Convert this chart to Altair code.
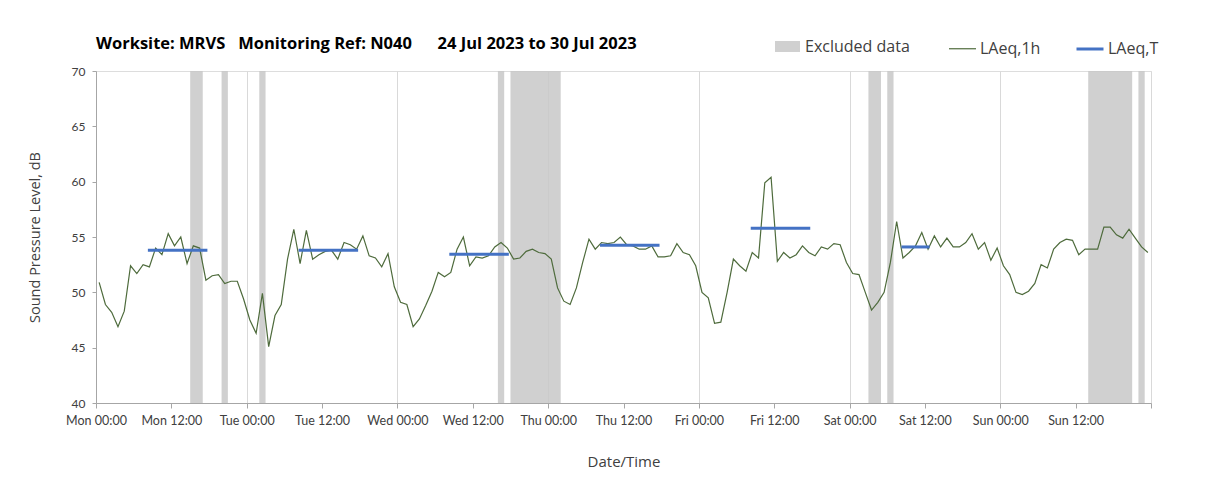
import altair as alt
import pandas as pd
import json

# Hourly LAeq,1h values (dB), one per hour starting Mon 24 Jul 2023 00:00 (plotted at mid-hour)
laeq_1h = [
    50.9, 48.9, 48.2, 46.9, 48.3, 52.4, 51.7, 52.5, 52.3, 54.0, 53.4, 55.3,
    54.2, 55.0, 52.6, 54.2, 54.0, 51.1, 51.5, 51.6, 50.8, 51.0, 51.0, 49.4,
    47.5, 46.3, 49.9, 45.1, 47.9, 48.9, 53.0, 55.7, 52.6, 55.6, 53.0, 53.4,
    53.7, 53.8, 53.0, 54.5, 54.3, 53.9, 55.1, 53.3, 53.1, 52.3, 53.5, 50.5,
    49.1, 48.9, 46.9, 47.6, 48.8, 50.1, 51.8, 51.4, 51.8, 53.9, 55.0, 52.4,
    53.2, 53.1, 53.3, 54.1, 54.5, 54.0, 53.0, 53.1, 53.7, 53.9, 53.6, 53.5,
    53.0, 50.4, 49.2, 48.9, 50.4, 52.7, 54.8, 53.9, 54.5, 54.4, 54.5, 55.0,
    54.3, 54.2, 53.9, 53.9, 54.2, 53.2, 53.2, 53.3, 54.4, 53.6, 53.4, 52.4,
    50.0, 49.5, 47.2, 47.3, 50.0, 53.0, 52.4, 51.9, 53.6, 53.1, 59.9, 60.4,
    52.8, 53.6, 53.1, 53.4, 54.2, 53.6, 53.3, 54.1, 53.9, 54.4, 54.3, 52.7,
    51.7, 51.6, 50.0, 48.4, 49.1, 50.0, 52.7, 56.4, 53.1, 53.6, 54.2, 55.4,
    53.9, 55.1, 54.1, 54.9, 54.1, 54.1, 54.5, 55.3, 53.9, 54.5, 52.9, 54.0,
    52.4, 51.6, 50.0, 49.8, 50.1, 50.8, 52.5, 52.2, 53.9, 54.5, 54.8, 54.7,
    53.4, 53.9, 53.9, 53.9, 55.9, 55.9, 55.2, 54.9, 55.7, 54.9, 54.1, 53.6,
]
hours = [i + 0.5 for i in range(len(laeq_1h))]

# Excluded data periods (hours from Mon 00:00)
excl_start = [15, 20, 26, 64, 66, 123, 126, 158, 166]
excl_end = [17, 21, 27, 65, 74, 125, 127, 165, 167]

# LAeq,T daytime periods
laeqT_start = [8.5, 32.5, 56.5, 80.5, 104.5, 128.5]
laeqT_end = [17.5, 41.5, 65.5, 89.5, 113.5, 132.5]
laeqT_val = [53.8, 53.8, 53.45, 54.25, 55.8, 54.1]

tick_labels = ["Mon 00:00", "Mon 12:00", "Tue 00:00", "Tue 12:00", "Wed 00:00",
               "Wed 12:00", "Thu 00:00", "Thu 12:00", "Fri 00:00", "Fri 12:00",
               "Sat 00:00", "Sat 12:00", "Sun 00:00", "Sun 12:00", ""]
y_ticks = [40, 45, 50, 55, 60, 65, 70]
series_names = ["LAeq,1h", "LAeq,T"]
title_text = ("Worksite: MRVS\u00a0\u00a0\u00a0Monitoring Ref: N040"
              "\u00a0\u00a0\u00a0\u00a0\u00a0\u00a024 Jul 2023 to 30 Jul 2023")

FONT = "Lato"
FONT2 = "Open Sans"
TXT = "#404040"

df_line = pd.DataFrame({"h": hours, "v": laeq_1h, "series": "LAeq,1h"})
df_excl = pd.DataFrame({"s": excl_start, "e": excl_end, "label": "Excluded data"})
df_T = pd.DataFrame({"s": laeqT_start, "e": laeqT_end, "v": laeqT_val, "series": "LAeq,T"})

x_scale = alt.Scale(domain=[0, 168], nice=False, zero=False)
y_scale = alt.Scale(domain=[40, 70], nice=False, zero=False)

x_axis = alt.Axis(
    title="Date/Time",
    values=list(range(0, 169, 12)),
    labelExpr=json.dumps(tick_labels).replace('"', "'") + "[round(datum.value/12)]",
    gridColor="#d9d9d9",
    gridOpacity={"condition": {"test": "datum.value % 24 === 0", "value": 1}, "value": 0},
    domainColor="#a6a6a6", tickColor="#a6a6a6", tickSize=5,
    labelFont=FONT, labelFontSize=12.5, labelColor=TXT, labelPadding=6,
    labelOverlap=False, labelFlush=False,
    titleFont=FONT2, titleFontSize=15, titleFontWeight="normal", titleColor=TXT,
    titlePadding=28,
)
y_axis = alt.Axis(
    title="Sound Pressure Level, dB",
    values=y_ticks,
    gridColor="#d9d9d9",
    domainColor="#a6a6a6", tickColor="#a6a6a6", tickSize=4,
    labelFont=FONT, labelFontSize=12, labelColor=TXT, labelPadding=7,
    labelFlush=False,
    titleFont=FONT2, titleFontSize=14.5, titleFontWeight="normal", titleColor=TXT,
    titlePadding=29,
)

line_legend = alt.Legend(
    orient="none", legendX=852, legendY=-37, direction="horizontal",
    title=None, symbolType="stroke", symbolSize=729,
    labelFont=FONT2, labelFontSize=16, labelColor=TXT, labelOffset=3,
    columnPadding=29,
)
stroke_enc = alt.Stroke(
    "series:N",
    scale=alt.Scale(domain=series_names, range=["#4e6b3c", "#4472c4"]),
    legend=line_legend,
)
sw_enc = alt.StrokeWidth(
    "series:N",
    scale=alt.Scale(domain=series_names, range=[1.2, 3]),
    legend=line_legend,
)

bands = alt.Chart(df_excl).mark_rect(opacity=0.85).encode(
    x=alt.X("s:Q", scale=x_scale, axis=x_axis),
    x2="e:Q",
    y=alt.datum(40, scale=y_scale, axis=y_axis),
    y2=alt.datum(70),
    fill=alt.Fill(
        "label:N",
        scale=alt.Scale(domain=["Excluded data"], range=["#c8c8c8"]),
        legend=alt.Legend(
            orient="none", legendX=679, legendY=-37, title=None,
            symbolType="M-1,-0.44H1V0.44H-1Z", symbolSize=625,
            symbolStrokeWidth=0, symbolOpacity=0.85,
            labelFont=FONT2, labelFontSize=16, labelColor=TXT, labelOffset=5,
        ),
    ),
)

line = alt.Chart(df_line).mark_line().encode(
    x=alt.X("h:Q", scale=x_scale, axis=x_axis),
    y=alt.Y("v:Q", scale=y_scale, axis=y_axis),
    stroke=stroke_enc,
    strokeWidth=sw_enc,
)

rules = alt.Chart(df_T).mark_rule(strokeCap="square").encode(
    x=alt.X("s:Q", scale=x_scale, axis=x_axis),
    x2="e:Q",
    y=alt.Y("v:Q", scale=y_scale, axis=y_axis),
    stroke=stroke_enc,
    strokeWidth=sw_enc,
)

chart = alt.layer(bands, line, rules).properties(
    width=1055,
    height=332,
    autosize=alt.AutoSizeParams(type="none"),
    padding={"left": 88, "top": 63, "right": 40, "bottom": 75},
    title=alt.TitleParams(
        text=title_text, anchor="start", frame="group", dy=36,
        font=FONT2, fontSize=16.5, fontWeight="bold", color="#000000", offset=18,
    ),
).configure_view(stroke="#a6a6a6", strokeWidth=1).configure(background="white")

chart.save("out.html", embed_options={"renderer": "svg", "actions": False})
